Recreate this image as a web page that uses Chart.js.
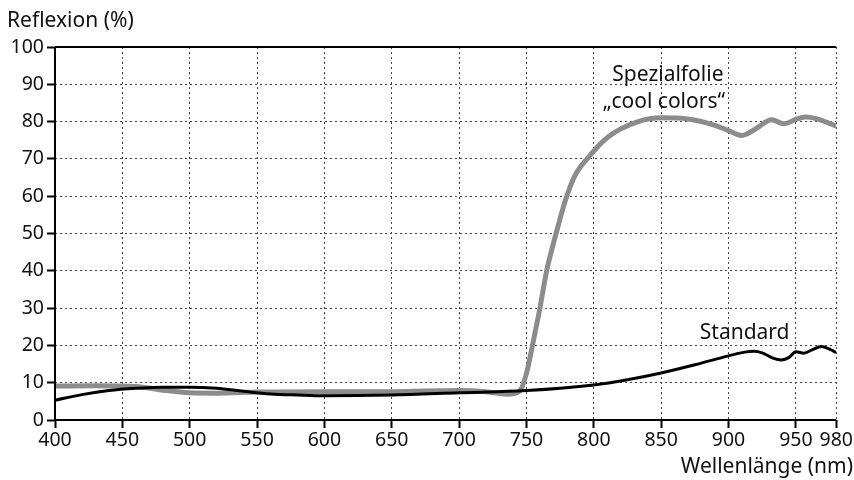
<!DOCTYPE html>
<html>
<head>
<meta charset="utf-8">
<script src="https://cdn.jsdelivr.net/npm/chart.js@4/dist/chart.umd.min.js"></script>
<style>
  html, body { margin: 0; padding: 0; background: #fff; }
  #wrap { width: 854px; height: 480px; }
</style>
</head>
<body>
<div id="wrap"><canvas id="chart" width="854" height="480"></canvas></div>
<script>
// Wellenlänge (nm) und Reflexion (%)
const folieNm = [400, 430, 460, 480, 500, 520, 550, 600, 650, 700, 720, 735, 745, 750, 755, 760, 765, 772, 779, 786, 795, 811, 833, 850, 870, 890, 900, 910, 920, 932, 941, 950, 957, 965, 980]
const folieWerte = [9.1, 9.2, 9.0, 8.0, 7.3, 7.2, 7.5, 7.6, 7.6, 7.9, 7.6, 6.9, 7.8, 12.5, 21, 30, 40, 50, 59, 65.5, 70, 76, 80, 81, 80.7, 79, 77.6, 76.3, 78, 80.5, 79.4, 80.6, 81.2, 80.8, 78.8]

const standardNm = [400, 420, 440, 460, 480, 500, 520, 540, 560, 580, 600, 650, 700, 750, 800, 825, 850, 875, 900, 912, 919, 925, 933, 939, 945, 950, 956, 962, 969, 975, 980]
const standardWerte = [5.3, 6.8, 7.9, 8.5, 8.8, 8.8, 8.5, 7.7, 7.0, 6.7, 6.5, 6.7, 7.3, 7.9, 9.4, 10.8, 12.6, 14.8, 17.2, 18.2, 18.4, 18.0, 16.6, 16.1, 16.8, 18.3, 17.9, 18.8, 19.7, 19.0, 18.1]

const xTicks = [400, 450, 500, 550, 600, 650, 700, 750, 800, 850, 900, 950, 980]
const yTicks = [0, 10, 20, 30, 40, 50, 60, 70, 80, 90, 100]

const FONT = "'Noto Sans', 'Open Sans', sans-serif"

function toPoints(xs, ys) {
    return xs.map((x, i) => ({x: x, y: ys[i]}))
}

// Achsenlinien, Titel und Beschriftungen
const extras = {
    id: 'extras',
    afterDatasetsDraw(chart) {
        const ctx = chart.ctx
        const a = chart.chartArea
        const sx = chart.scales.x
        const sy = chart.scales.y
        ctx.save()
        ctx.strokeStyle = '#000'
        ctx.lineWidth = 2
        ctx.setLineDash([])
        ctx.beginPath()
        ctx.moveTo(a.left, a.top)
        ctx.lineTo(a.right, a.top)
        ctx.moveTo(a.left, a.top)
        ctx.lineTo(a.left, a.bottom)
        ctx.lineTo(a.right, a.bottom)
        ctx.stroke()

        ctx.fillStyle = '#111'
        ctx.font = '21px ' + FONT
        ctx.textBaseline = 'middle'
        ctx.textAlign = 'left'
        ctx.fillText('Reflexion (%)', 7, 21)
        ctx.textAlign = 'right'
        ctx.fillText('Wellenlänge (nm)', 853, 467)

        ctx.textAlign = 'center'
        ctx.fillText('Spezialfolie', sx.getPixelForValue(855), sy.getPixelForValue(92.5))
        ctx.fillText('\u201Ecool colors\u201C', sx.getPixelForValue(852), sy.getPixelForValue(85.3))
        ctx.fillText('Standard', sx.getPixelForValue(912), sy.getPixelForValue(23.3))
        ctx.restore()
    }
}

// Standard zuerst, damit die schwarze Linie oben liegt
const data = {
    datasets: [{
            label: 'Standard',
            data: toPoints(standardNm, standardWerte),
            borderColor: '#000',
            borderWidth: 3,
            pointRadius: 0,
            tension: 0.4,
            cubicInterpolationMode: 'monotone'
        }, {
            label: 'Spezialfolie „cool colors“',
            data: toPoints(folieNm, folieWerte),
            borderColor: '#8c8c8c',
            borderWidth: 5,
            pointRadius: 0,
            tension: 0.4,
            cubicInterpolationMode: 'monotone'
        }]
}

const config = {
    type: 'line',
    data: data,
    plugins: [extras],
    options: {
        responsive: false,
        animation: false,
        layout: {padding: {top: 47, right: 16, left: 0, bottom: 0}},
        plugins: {
            legend: {display: false},
            tooltip: {enabled: false}
        },
        scales: {
            x: {
                type: 'linear',
                min: 400,
                max: 980,
                afterBuildTicks: (s) => { s.ticks = xTicks.map(v => ({value: v})) },
                afterFit: (s) => { s.height = 60 },
                ticks: {
                    color: '#111',
                    font: {family: FONT, size: 19.5},
                    padding: 1,
                    maxRotation: 0,
                    autoSkip: false
                },
                grid: {
                    color: '#444',
                    lineWidth: 1,
                    tickLength: 8,
                    tickColor: '#000',
                    tickWidth: 2,
                    tickBorderDash: []
                },
                border: {display: false, dash: [2, 3]}
            },
            y: {
                min: 0,
                max: 100,
                afterBuildTicks: (s) => { s.ticks = yTicks.map(v => ({value: v})) },
                afterFit: (s) => { s.width = 55 },
                ticks: {
                    color: '#111',
                    font: {family: FONT, size: 19.5},
                    padding: 3
                },
                grid: {
                    color: '#444',
                    lineWidth: 1,
                    tickLength: 8,
                    tickColor: '#000',
                    tickWidth: 2,
                    tickBorderDash: []
                },
                border: {display: false, dash: [2, 3]}
            }
        }
    }
}

let ctx = document.getElementById('chart').getContext('2d')
new Chart(ctx, config)
</script>
</body>
</html>
